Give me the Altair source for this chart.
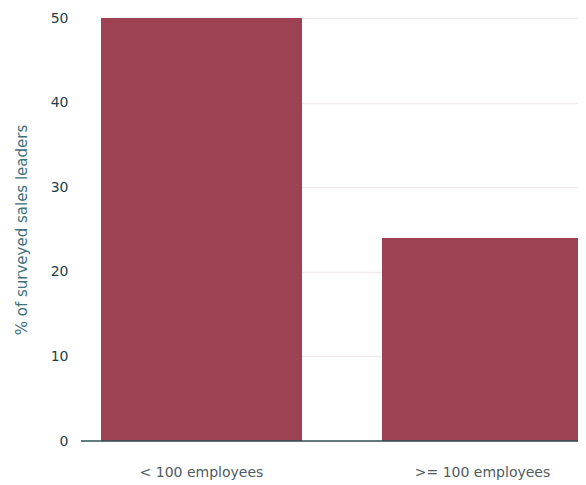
import altair as alt
import pandas as pd

categories = ["< 100 employees", ">= 100 employees"]
values = [50, 24]

df = pd.DataFrame({"size": categories, "pct": values})
base_df = pd.DataFrame({"zero": [0]})

FONT = "DejaVu Sans"

bars = alt.Chart(df).mark_bar(color="#9d4252").encode(
    x=alt.X("size:N", sort=categories, title=None,
            scale=alt.Scale(paddingInner=0.2847, paddingOuter=0, range=[20, 502]),
            axis=alt.Axis(labelAngle=0, labelFontSize=14, labelColor="#4f5b5e",
                          labelFont=FONT, labelPadding=24, ticks=False,
                          domain=False, grid=False)),
    y=alt.Y("pct:Q", title="% of surveyed sales leaders",
            scale=alt.Scale(domain=[0, 50]),
            axis=alt.Axis(values=[0, 10, 20, 30, 40, 50], domain=False, ticks=False,
                          labelFontSize=14, labelColor="#1f4048", labelFont=FONT,
                          labelPadding=13, gridColor="#f1ecec", gridWidth=1.5,
                          titleFont=FONT, titleFontSize=15, titleFontWeight="normal",
                          titleColor="#41707a", titleX=-60, titleY=211.5,
                          titleAngle=270, titleAlign="center", titleBaseline="middle")),
)

baseline = alt.Chart(base_df).mark_rule(color="#2c4f57", strokeWidth=1.5).encode(
    y=alt.Y("zero:Q"),
    x=alt.value(0),
    x2=alt.value(497),
)

chart = alt.layer(bars, baseline).properties(
    width=497, height=423,
    autosize=alt.AutoSizeParams(type="none"),
    padding={"left": 73, "top": 10, "right": 0, "bottom": 40},
).configure_view(stroke=None)

chart.save("out.html", embed_options={"renderer": "svg", "actions": False})
